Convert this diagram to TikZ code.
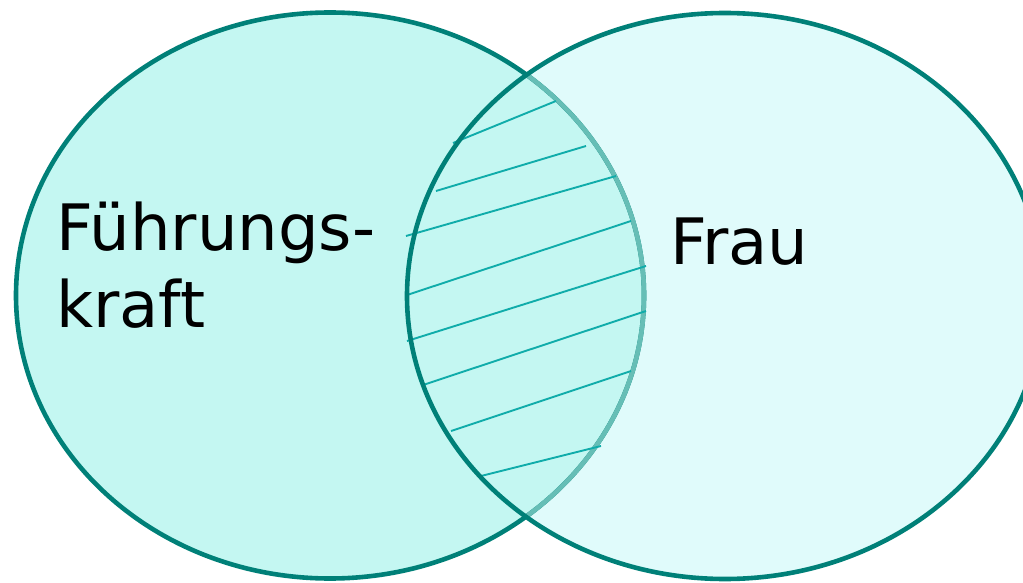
\documentclass[tikz,border=0pt]{standalone}
\usepackage{fontspec}
\setmainfont{DejaVu Sans}
\usetikzlibrary{positioning}

\definecolor{setline}{RGB}{0,128,120}
\definecolor{setlinelight}{RGB}{102,190,182}
\definecolor{leftfill}{RGB}{196,247,242}
\definecolor{rightfill}{RGB}{224,251,251}
\definecolor{hatchcol}{RGB}{16,172,170}

\begin{document}
\begin{tikzpicture}[x=1pt,y=-1pt,
    outline/.style={draw=setline, line width=4.6pt},
    outlinelight/.style={draw=setlinelight, line width=4.6pt},
    hatchline/.style={draw=hatchcol, line width=1.9pt},
    settext/.style={inner sep=0pt, anchor=base west, font=\fontsize{64}{77}\selectfont}]

    \useasboundingbox (0,0) rectangle (1023,583);

    %-----Sets-----
    \coordinate (lc) at (330,295.5);
    \coordinate (rc) at (725,296);

    % Frau set (fill only)
    \fill [rightfill] (rc) ellipse [x radius=318pt, y radius=283pt];

    % Fuehrungskraft set
    \fill [leftfill] (lc) ellipse [x radius=314pt, y radius=283pt];
    \draw [outline] (lc) ellipse [x radius=314pt, y radius=283pt];

    % part of the left outline that lies inside Frau
    \begin{scope}
        \clip (rc) ellipse [x radius=318pt, y radius=283pt];
        \draw [outlinelight] (lc) ellipse [x radius=314pt, y radius=283pt];
    \end{scope}

    %-----Hatching of the intersection-----
    \foreach \p/\q in {{453,143}/{556,101}, {436,191}/{586,146},
                       {406,236}/{616,176}, {407,295}/{631,221},
                       {407,341}/{646,266}, {423,385}/{646,311},
                       {451,431}/{631,371}, {481,476}/{601,446}}
        \draw [hatchline] (\p) -- (\q);

    % Frau outline
    \draw [outline] (rc) ellipse [x radius=318pt, y radius=283pt];

    %-----Labels-----
    \node [settext] (fuehrung) at (56,250) {Führungs-};
    \node [settext] (kraft) at (56,327) {kraft};
    \node [settext] (frau) at (670,264) {Frau};

\end{tikzpicture}
\end{document}
